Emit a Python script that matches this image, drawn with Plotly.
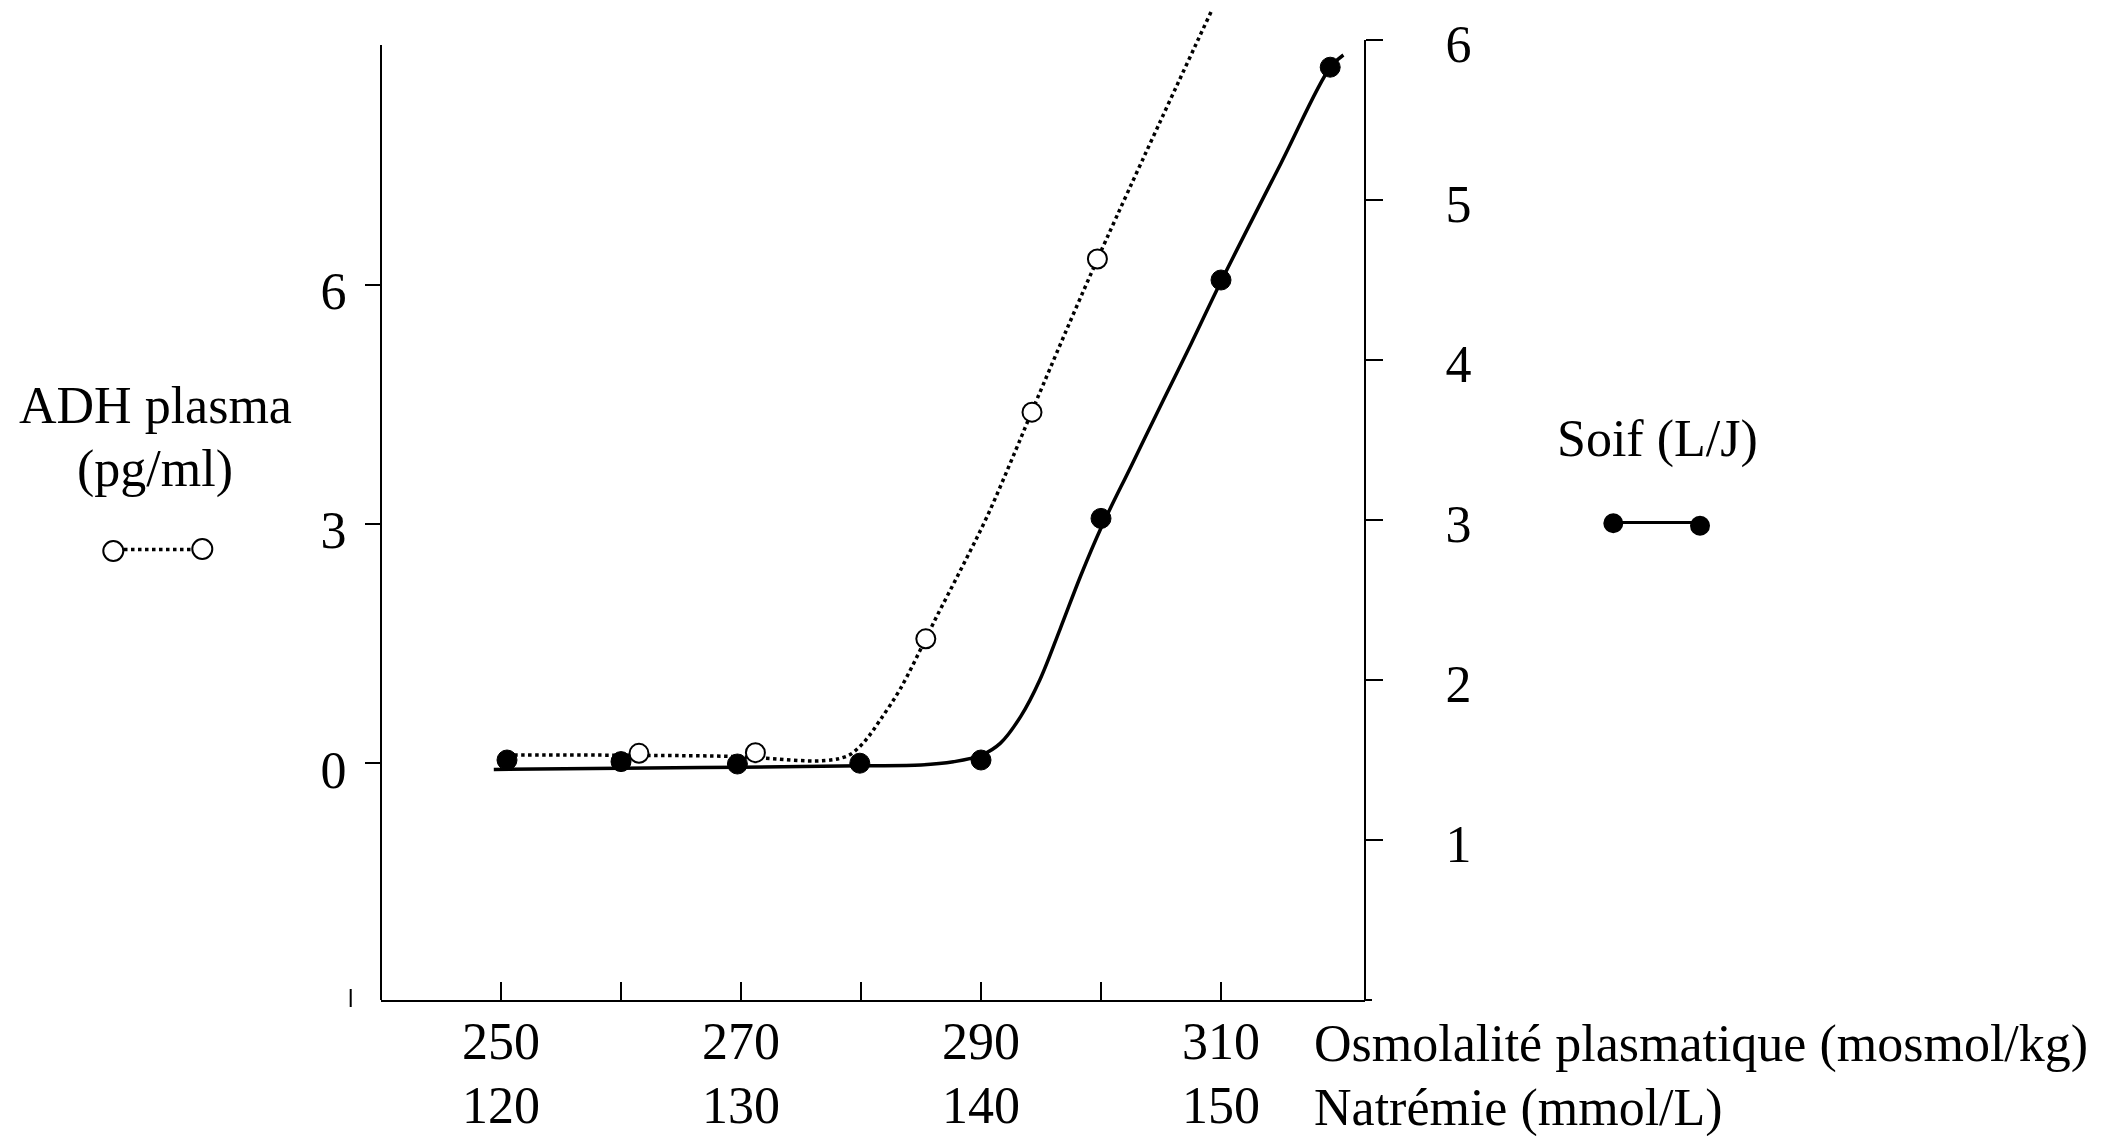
import plotly.graph_objects as go

# ---------------- data ----------------
# Soif (L/J) - filled circles, right axis
osm_soif = [250.5, 260.0, 269.7, 279.9, 290.0, 300.0, 310.0, 319.1]
soif = [1.50, 1.49, 1.475, 1.48, 1.50, 3.01, 4.50, 5.83]
# ADH plasma (pg/ml) - open circles, left axis
osm_adh = [261.5, 271.2, 285.4, 294.25, 299.7]
adh = [0.125, 0.133, 1.56, 4.40, 6.32]
# drawn (fitted) curves
curve_soif_x = [249.4, 260.0, 270.0, 280.0, 285.0, 287.7, 290.05, 291.6, 293.3, 294.9,
                296.6, 298.3, 300.0, 302.5, 305.2, 307.5, 310.0, 315.0, 319.1, 320.2]
curve_soif_y = [1.441, 1.448, 1.455, 1.464, 1.469, 1.489, 1.531, 1.604, 1.771, 2.0,
                2.32, 2.65, 2.95, 3.335, 3.75, 4.10, 4.49, 5.23, 5.829, 5.906]
curve_adh_x = [250.5, 261.5, 269.7, 276.1, 277.7, 278.3, 279.1, 279.9, 280.6, 281.6,
               283.3, 285.4, 286.3, 288.3, 290.5, 292.9, 294.7, 299.7, 309.2]
curve_adh_y = [0.104, 0.10, 0.083, 0.029, 0.045, 0.063, 0.11, 0.21, 0.33, 0.543,
               0.94, 1.561, 1.837, 2.422, 3.09, 3.926, 4.574, 6.316, 9.427]
# tick labels
osm_ticks = [250, 260, 270, 280, 290, 300, 310]
osm_labels = ["250", "", "270", "", "290", "", "310"]
na_ticks = [120, 130, 140, 150]
na_labels = ["120", "130", "140", "150"]
adh_ticks = [0, 3, 6]
soif_ticks = [1, 2, 3, 4, 5, 6]

# ---------------- layout geometry ----------------
OFF = 8                      # page body margin of the html page
W, H = 2123 - OFF, 1136 - OFF
PLOT_L, PLOT_R, PLOT_T, PLOT_B = 381, 1365, 8, 1000   # on-screen plot box
ML = PLOT_L - OFF
MR = W - (PLOT_R - OFF)
MT = PLOT_T - OFF
MB = H - (PLOT_B - OFF)
PW, PH = W - ML - MR, H - MT - MB
FONT = "Liberation Serif"
FS = 52

def px(x):
    return (x - PLOT_L) / PW

def py(y):
    return (PLOT_B - y) / PH

x_range = [240, 240 + PW / 12.0]
na_range = [120 + (x_range[0] - 250) / 2, 120 + (x_range[1] - 250) / 2]
y_bottom = -(PLOT_B - 763.3) / 79.8
y_range = [y_bottom, y_bottom + PH / 79.8]
y2_range = [0, PH / 160.0]

fig = go.Figure()

# curves
fig.add_trace(go.Scatter(x=curve_adh_x, y=curve_adh_y, mode="lines",
                         line=dict(color="black", width=3.5, dash="dot", shape="spline", smoothing=1),
                         hoverinfo="skip", showlegend=False))
fig.add_trace(go.Scatter(x=curve_soif_x, y=curve_soif_y, mode="lines", yaxis="y2",
                         line=dict(color="black", width=3.5, shape="spline", smoothing=1),
                         hoverinfo="skip", showlegend=False))
# points
fig.add_trace(go.Scatter(x=osm_soif, y=soif, mode="markers", yaxis="y2", name="Soif (L/J)",
                         marker=dict(symbol="circle", size=20, color="black",
                                     line=dict(color="black", width=1)),
                         showlegend=False))
fig.add_trace(go.Scatter(x=osm_adh, y=adh, mode="markers", name="ADH plasma (pg/ml)",
                         marker=dict(symbol="circle", size=19, color="white",
                                     line=dict(color="black", width=2)),
                         showlegend=False))
# empty trace for the natrémie axis
fig.add_trace(go.Scatter(x=[], y=[], xaxis="x2", showlegend=False, hoverinfo="skip"))

shapes = []
# y axis lines (shapes, so the dotted curve can rise above their top)
shapes.append(dict(type="line", xref="paper", yref="y", x0=0, x1=0,
                   y0=y_range[0], y1=9.0, line=dict(color="black", width=2)))
shapes.append(dict(type="line", xref="paper", yref="y2", x0=1, x1=1,
                   y0=0, y1=6, line=dict(color="black", width=2)))
# small stray tick at the lower left
shapes.append(dict(type="line", xref="paper", yref="paper", x0=px(350.7), x1=px(350.7),
                   y0=py(989), y1=py(1007), line=dict(color="black", width=2)))
# slight overshoot of the x axis line past the right axis
shapes.append(dict(type="line", xref="paper", yref="paper", x0=1, x1=px(1372),
                   y0=0, y1=0, line=dict(color="black", width=2)))

# legend glyphs
def circle(cx, cy, filled):
    return dict(type="circle", xref="paper", yref="paper", xsizemode="pixel", ysizemode="pixel",
                xanchor=px(cx), yanchor=py(cy), x0=-10, x1=10, y0=-10, y1=10,
                fillcolor="black" if filled else "white",
                line=dict(color="black", width=0 if filled else 2))

shapes.append(dict(type="line", xref="paper", yref="paper", x0=px(124), x1=px(192),
                   y0=py(549.5), y1=py(549.5), line=dict(color="black", width=3.5, dash="dot")))
shapes.append(circle(113.3, 551, False))
shapes.append(circle(202.3, 549, False))
shapes.append(dict(type="line", xref="paper", yref="paper", x0=px(1613), x1=px(1700),
                   y0=py(522.5), y1=py(522.5), line=dict(color="black", width=3)))
shapes.append(circle(1613.3, 523.3, True))
shapes.append(circle(1700, 525.7, True))

tf = dict(family=FONT, size=FS, color="black")

def ann(text, x, y, xanchor="center"):
    return dict(text=text, xref="paper", yref="paper", x=px(x), y=py(y),
                xanchor=xanchor, yanchor="middle", showarrow=False, font=tf)

annotations = [
    ann("ADH plasma", 155.5, 405.2),
    ann("(pg/ml)", 155.0, 468.5),
    ann("Soif (L/J)", 1657.5, 438.5),
    ann("Osmolalité plasmatique (mosmol/kg)", 1311.5, 1044.2, "left"),
    ann("Natrémie (mmol/L)", 1311.5, 1107.5, "left"),
]

fig.update_layout(
    width=W, height=H,
    margin=dict(l=ML, r=MR, t=MT, b=MB, pad=0, autoexpand=False),
    paper_bgcolor="white", plot_bgcolor="white",
    font=tf,
    showlegend=False,
    xaxis=dict(range=x_range, showline=True, linecolor="black", linewidth=2,
               showgrid=False, zeroline=False, automargin=False,
               tickmode="array", tickvals=osm_ticks, ticktext=osm_labels,
               ticks="inside", ticklen=18, tickwidth=2, tickcolor="black",
               ticklabelstandoff=-5, ticklabeloverflow="allow", tickfont=tf),
    xaxis2=dict(range=na_range, overlaying="x", anchor="y", side="bottom",
                showline=False, showgrid=False, zeroline=False, automargin=False,
                tickmode="array", tickvals=na_ticks, ticktext=na_labels,
                ticks="", ticklabelstandoff=70, ticklabeloverflow="allow", tickfont=tf),
    yaxis=dict(range=y_range, showline=False, showgrid=False, zeroline=False, automargin=False,
               tickmode="array", tickvals=adh_ticks,
               ticks="outside", ticklen=15, tickwidth=2, tickcolor="black",
               ticklabelstandoff=8, ticklabelshift=6, ticklabeloverflow="allow", tickfont=tf),
    yaxis2=dict(range=y2_range, overlaying="y", side="right", anchor="x", automargin=False,
                showline=False, showgrid=False, zeroline=False,
                tickmode="array", tickvals=soif_ticks,
                ticks="outside", ticklen=17, tickwidth=2, tickcolor="black",
                ticklabelstandoff=52, ticklabelshift=4, ticklabeloverflow="allow", tickfont=tf),
    shapes=shapes,
    annotations=annotations,
)

fig.write_html("out.html")
